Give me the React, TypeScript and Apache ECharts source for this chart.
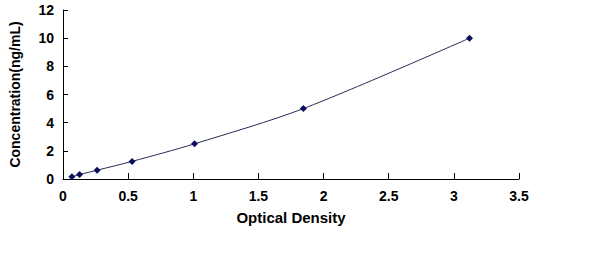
import React, { useEffect, useRef } from "react";
import * as echarts from "echarts";

const opticalDensity = [0.068, 0.127, 0.262, 0.53, 1.01, 1.845, 3.12];
const concentration = [0.156, 0.312, 0.625, 1.25, 2.5, 5, 10];
const xTitle = "Optical Density";
const yTitle = "Concentration(ng/mL)";

export default function App() {
  const ref = useRef<HTMLDivElement>(null);
  useEffect(() => {
    const chart = echarts.init(ref.current!, undefined, { renderer: "svg" });
    const font = "Liberation Sans, Arial, sans-serif";
    chart.setOption({
      animation: false,
      backgroundColor: "#ffffff",
      grid: { left: 60, top: 10, right: 81, bottom: 94, containLabel: false },
      xAxis: {
        type: "value",
        min: 0,
        max: 3.5,
        interval: 0.5,
        name: xTitle,
        nameLocation: "middle",
        nameGap: 31,
        nameTextStyle: { fontFamily: font, fontWeight: "bold", fontSize: 15, color: "#000" },
        axisLine: { show: true, lineStyle: { color: "#000", width: 1 } },
        axisTick: { show: true, inside: true, length: 6, lineStyle: { color: "#000" } },
        axisLabel: { fontFamily: font, fontWeight: "bold", fontSize: 14, color: "#000", margin: 10 },
        splitLine: { show: false },
      },
      yAxis: {
        type: "value",
        min: 0,
        max: 12,
        interval: 2,
        name: yTitle,
        nameLocation: "middle",
        nameGap: 41,
        nameTextStyle: { fontFamily: font, fontWeight: "bold", fontSize: 14, color: "#000" },
        axisLine: { show: true, lineStyle: { color: "#000", width: 1 } },
        axisTick: { show: true, inside: true, length: 5, lineStyle: { color: "#000" } },
        axisLabel: { fontFamily: font, fontWeight: "bold", fontSize: 14, color: "#000", margin: 9 },
        splitLine: { show: false },
      },
      series: [
        {
          type: "line",
          data: opticalDensity.map((x, i) => [x, concentration[i]]),
          smooth: 0.3,
          symbol: "diamond",
          symbolSize: 7,
          itemStyle: { color: "#0d0d5e" },
          lineStyle: { color: "#2a2a55", width: 1 },
        },
      ],
    });
    return () => chart.dispose();
  }, []);
  return <div ref={ref} style={{ width: 600, height: 273, position: "absolute", left: 0, top: 0 }} />;
}
